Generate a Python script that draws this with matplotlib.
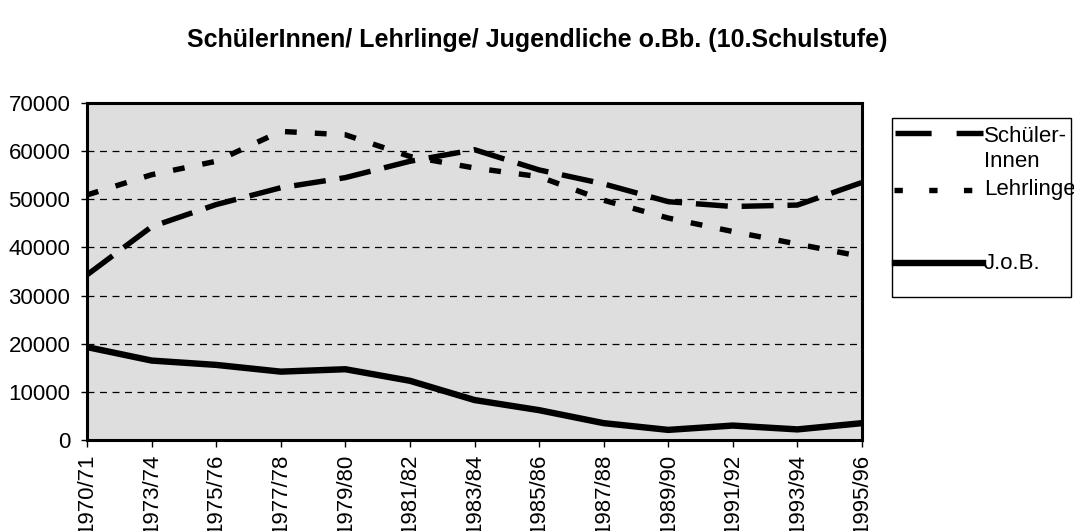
import matplotlib
matplotlib.use("Agg")
import matplotlib.pyplot as plt
from matplotlib.lines import Line2D
from matplotlib.patches import Rectangle

plt.rcParams['font.family'] = ['Liberation Sans', 'DejaVu Sans']
plt.rcParams['lines.scale_dashes'] = False

years = ["1970/71", "1973/74", "1975/76", "1977/78", "1979/80", "1981/82", "1983/84",
         "1985/86", "1987/88", "1989/90", "1991/92", "1993/94", "1995/96"]
schueler = [34300, 44300, 48900, 52400, 54500, 57900, 60300, 56100, 53200, 49500, 48500, 48800, 53500]
lehrlinge = [50900, 55100, 57900, 64100, 63400, 58900, 56500, 54700, 49800, 46100, 43300, 40700, 38100]
job = [19300, 16500, 15600, 14200, 14700, 12300, 8300, 6200, 3500, 2100, 3000, 2200, 3500]
yticks = [0, 10000, 20000, 30000, 40000, 50000, 60000, 70000]
labels = ["Schüler-\nInnen", "Lehrlinge", "J.o.B."]

W, H = 1074, 531
fig = plt.figure(figsize=(W / 100, H / 100), dpi=100)
ax = fig.add_axes([87 / W, 1 - 440 / H, (862 - 87) / W, (440 - 103) / H])
ax.set_facecolor('#dedede')

sty_s = dict(color='black', lw=3.9, linestyle=(0, (23, 10)), dash_capstyle='butt')
sty_l = dict(color='black', lw=3.9, linestyle=(0, (8.5, 13)), dash_capstyle='butt')
sty_j = dict(color='black', lw=4.6, solid_capstyle='round')

x = list(range(len(years)))
ax.plot(x, schueler, zorder=3, **sty_s)
ax.plot(x, lehrlinge, zorder=3, **sty_l)
ax.plot(x, job, zorder=3, **sty_j)

ax.set_xlim(0, len(years) - 1)
ax.set_ylim(0, 70000)
ax.set_yticks(yticks)
ax.set_yticklabels([str(v) for v in yticks], fontsize=16)
ax.set_xticks(x)
ax.set_xticklabels(years, rotation=90, fontsize=16)
ax.yaxis.grid(True, color='black', lw=0.9, linestyle=(0, (5, 4)))
ax.set_axisbelow(True)
ax.tick_params(axis='y', length=4, width=1, pad=8)
ax.tick_params(axis='x', length=5, width=1, pad=5)
for s in ax.spines.values():
    s.set_linewidth(2.2)

fig.text(0.5, 1 - 40 / H, "SchülerInnen/ Lehrlinge/ Jugendliche o.Bb. (10.Schulstufe)",
         ha='center', va='center', fontsize=18, fontweight='bold')

# legend drawn in figure pixel coordinates
def fx(px):
    return px / W

def fy(py):
    return 1 - py / H

fig.add_artist(Rectangle((fx(892), fy(297)), fx(1071) - fx(892), fy(118) - fy(297),
                         transform=fig.transFigure, facecolor='white', edgecolor='black', lw=1))
fig.add_artist(Line2D([fx(895), fx(983)], [fy(133), fy(133)], transform=fig.transFigure,
                      color='black', lw=3.9, linestyle=(0, (26, 18)), dash_capstyle='butt'))
fig.add_artist(Line2D([fx(894), fx(983)], [fy(190), fy(190)], transform=fig.transFigure,
                      color='black', lw=3.9, linestyle=(0, (6, 19)), dash_capstyle='butt'))
fig.add_artist(Line2D([fx(895), fx(983)], [fy(263), fy(263)], transform=fig.transFigure,
                      color='black', lw=4.6))
fig.text(fx(984), fy(126), labels[0], ha='left', va='top', fontsize=16, linespacing=1.25)
fig.text(fx(984), fy(190), labels[1], ha='left', va='center', fontsize=16)
fig.text(fx(984), fy(263), labels[2], ha='left', va='center', fontsize=16)

fig.savefig("out.png", dpi=100)
